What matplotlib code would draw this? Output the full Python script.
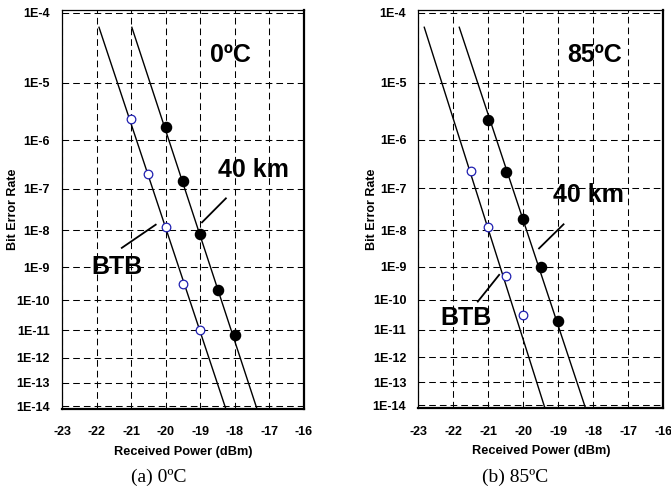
import numpy as np
import matplotlib
matplotlib.use("Agg")
import matplotlib.pyplot as plt

plt.rcParams['font.family'] = ['Liberation Sans', 'DejaVu Sans']
plt.rcParams['lines.scale_dashes'] = False

# ---------------- data ----------------
x_ticks = [-23, -22, -21, -20, -19, -18, -17, -16]
y_ticks = [1e-4, 1e-5, 1e-6, 1e-7, 1e-8, 1e-9, 1e-10, 1e-11, 1e-12, 1e-13, 1e-14]
y_ticklabels = ["1E-4", "1E-5", "1E-6", "1E-7", "1E-8", "1E-9", "1E-10",
                "1E-11", "1E-12", "1E-13", "1E-14"]

# (a) 0 C
a_btb_x = [-21.0, -20.5, -20.0, -19.5, -19.0]
a_btb_ber = [2.5e-6, 2.1e-7, 1.2e-8, 3.2e-10, 1.0e-11]
a_40_x = [-20.0, -19.5, -19.0, -18.5, -18.0]
a_40_ber = [1.8e-6, 1.45e-7, 8.0e-9, 2.2e-10, 6.8e-12]
a_btb_line_x = [-21.93, -18.26]
a_btb_line_ber = [6.5e-5, 7.4e-15]
a_40_line_x = [-20.98, -17.36]
a_40_line_ber = [6.5e-5, 7.4e-15]

# (b) 85 C
b_btb_x = [-21.5, -21.0, -20.5, -20.0]
b_btb_ber = [2.4e-7, 1.2e-8, 5.5e-10, 3.2e-11]
b_40_x = [-21.0, -20.5, -20.0, -19.5, -19.0]
b_40_ber = [2.3e-6, 2.3e-7, 1.9e-8, 1.0e-9, 2.1e-11]
b_btb_line_x = [-22.83, -19.38]
b_btb_line_ber = [6.5e-5, 7.4e-15]
b_40_line_x = [-21.83, -18.22]
b_40_line_ber = [6.5e-5, 7.4e-15]

y_lim = (7.4e-15, 1.09e-4)


def fwd(y):
    y = np.clip(np.asarray(y, dtype=float), 1e-300, 0.999999)
    return -np.log10(-np.log10(y))


def inv(t):
    return 10.0 ** (-(10.0 ** (-np.asarray(t, dtype=float))))


fig = plt.figure(figsize=(6.71, 4.90), dpi=100)
ax_a = fig.add_axes([0.0924, 0.1653, 0.3607, 0.8143])
ax_b = fig.add_axes([0.6234, 0.1667, 0.3651, 0.8129])

blue = '#1f1fb0'


def style(ax, ylabel_x):
    ax.set_yscale('function', functions=(fwd, inv))
    ax.set_xlim(-23, -16)
    ax.set_ylim(*y_lim)
    ax.set_xticks(x_ticks)
    ax.set_xticklabels([str(v) for v in x_ticks], fontweight='bold', fontsize=9)
    ax.set_yticks(y_ticks)
    ax.set_yticklabels(y_ticklabels, fontweight='bold', fontsize=9)
    ax.yaxis.set_minor_locator(matplotlib.ticker.NullLocator())
    ax.tick_params(axis='y', length=0, pad=8.6)
    ax.tick_params(axis='x', length=0, pad=12.5)
    ax.grid(True, color='black', linewidth=0.75, linestyle=(0, (4.8, 2.9)))
    ax.set_axisbelow(True)
    for side in ['left', 'top']:
        ax.spines[side].set_linewidth(0.9)
    for side in ['right', 'bottom']:
        ax.spines[side].set_linewidth(1.6)
    ax.set_xlabel('Received Power (dBm)', fontweight='bold', fontsize=9.2)
    ax.xaxis.set_label_coords(0.5, -0.107)
    ax.xaxis.label.set_verticalalignment('center')
    ax.set_ylabel('Bit Error Rate', fontweight='bold', fontsize=9)
    ax.yaxis.set_label_coords(ylabel_x, 0.5)
    ax.yaxis.label.set_verticalalignment('center')


def draw(ax, bx, by, fx, fy, blx, bly, flx, fly):
    ax.plot(blx, bly, color='black', lw=1.0, zorder=3)
    ax.plot(flx, fly, color='black', lw=1.0, zorder=3)
    ax.plot(bx, by, linestyle='none', marker='o', markersize=6.2,
            markerfacecolor='white', markeredgecolor=blue, markeredgewidth=0.9, zorder=4)
    ax.plot(fx, fy, linestyle='none', marker='o', markersize=7.3,
            markerfacecolor='black', markeredgecolor='black', zorder=4)


style(ax_a, -0.2025)
style(ax_b, -0.19)

draw(ax_a, a_btb_x, a_btb_ber, a_40_x, a_40_ber,
     a_btb_line_x, a_btb_line_ber, a_40_line_x, a_40_line_ber)
draw(ax_b, b_btb_x, b_btb_ber, b_40_x, b_40_ber,
     b_btb_line_x, b_btb_line_ber, b_40_line_x, b_40_line_ber)

big = dict(fontsize=18, fontweight='bold', ha='center', va='center', zorder=5)

# (a) annotations
ax_a.text(-18.14, 2.7e-5, '0ºC', **big)
ax_a.text(-17.47, 2.5e-7, '40 km', **big)
ax_a.plot([-18.95, -18.26], [1.6e-8, 6e-8], color='black', lw=1.3, zorder=5)
ax_a.text(-21.42, 1.0e-9, 'BTB', **big)
ax_a.plot([-21.27, -20.29], [3.5e-9, 1.4e-8], color='black', lw=1.3, zorder=5)

# (b) annotations
ax_b.text(-17.95, 2.7e-5, '85ºC', **big)
ax_b.text(-18.14, 6.9e-8, '40 km', **big)
ax_b.plot([-19.55, -18.85], [3.3e-9, 1.4e-8], color='black', lw=1.3, zorder=5)
ax_b.text(-21.65, 2.5e-11, 'BTB', **big)
ax_b.plot([-21.30, -20.69], [8.9e-11, 5.9e-10], color='black', lw=1.3, zorder=5)

fig.text(0.236, 0.0265, '(a) 0ºC', family='Liberation Serif', fontsize=14,
         ha='center', va='center')
fig.text(0.7675, 0.0265, '(b) 85ºC', family='Liberation Serif', fontsize=14,
         ha='center', va='center')

fig.savefig('out.png', dpi=100)
